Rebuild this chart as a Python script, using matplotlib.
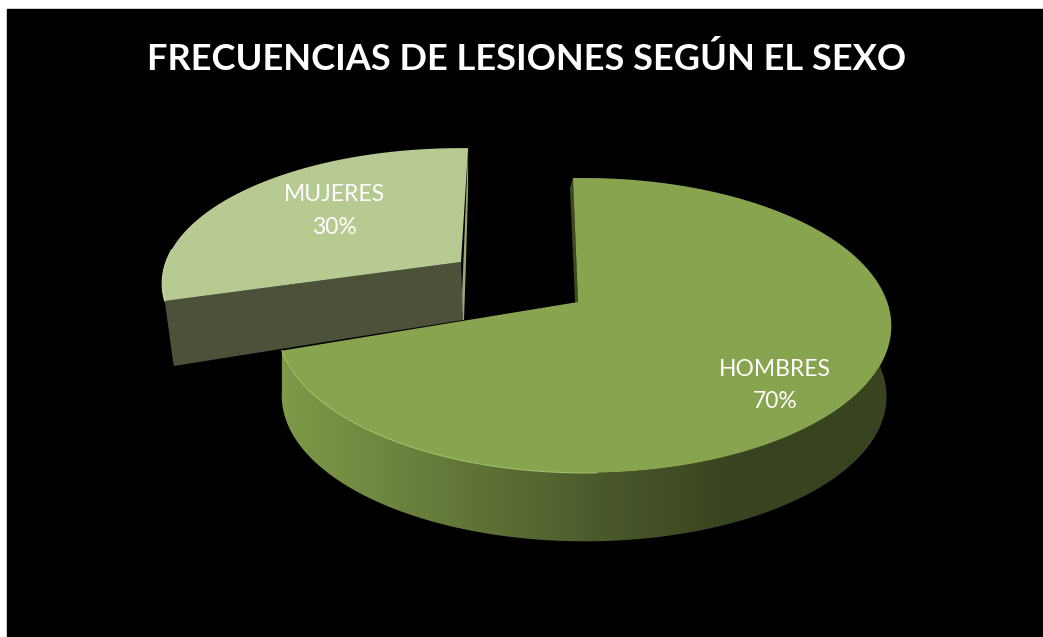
import numpy as np
import matplotlib
matplotlib.use("Agg")
import matplotlib.pyplot as plt
from matplotlib.colors import LinearSegmentedColormap
from matplotlib.patches import Polygon, Rectangle

titulo = "FRECUENCIAS DE LESIONES SEGÚN EL SEXO"
sexos = ["HOMBRES", "MUJERES"]
porcentajes = [70, 30]

plt.rcParams['font.family'] = ['Lato', 'DejaVu Sans']

# perspective of each slice top: centre, radii, depth factors, rotation
VISTA_HOMBRES = dict(cx=578, cy=302, A=303, B=143.7, k=0.159, m=-0.02, rot=-1.1)
VISTA_MUJERES = dict(cx=461, cy=262, A=295, B=132, k=0.159, m=0.0, rot=1.6)


def proyectar(ang, cx, cy, A, B, k, m, rot, dy=0, esc=1.0):
    a = np.radians(np.asarray(ang, dtype=float) + rot)
    u, v = np.sin(a), np.cos(a)
    w = 1 + k * v + m * u
    return np.column_stack((cx + esc * A * u / w, cy + dy - esc * B * v / w))


fig = plt.figure(figsize=(10.43, 6.37), dpi=100, facecolor="white")
ax = fig.add_axes([0, 0, 1, 1])
ax.set_axis_off()
ax.add_patch(Rectangle((7, 9), 1043, 637, color="black", zorder=0))

fin_hombres = porcentajes[0] * 3.6
fin_mujeres = fin_hombres + porcentajes[1] * 3.6

# MUJERES: exploded slice, front face first
arco_m = proyectar(np.linspace(fin_hombres, fin_mujeres, 120), **VISTA_MUJERES)
vert_m = np.array([VISTA_MUJERES["cx"], VISTA_MUJERES["cy"]], dtype=float)
esquina = arco_m[0]
cara = [esquina, vert_m, vert_m + [2, 58], esquina + [9, 65]]
ax.add_patch(Polygon(cara, closed=True, fc="#4b5239", ec="none", zorder=2))
ax.add_patch(Polygon([arco_m[-1], arco_m[-1] + [0, 40], vert_m + [5, 0], vert_m + [3, 58], vert_m + [0, 58]],
                     closed=True, fc="#98a878", ec="none", zorder=1))
ax.add_patch(Polygon(np.vstack((arco_m, vert_m)), closed=True, fc="#b6ca92", ec="none", zorder=3))
ax.plot(arco_m[:25, 0], arco_m[:25, 1], color="#c6d8a4", lw=0.8, zorder=4)

# HOMBRES: side wall with gradient, then the top
borde_sup = proyectar(np.linspace(70, fin_hombres, 300), **VISTA_HOMBRES)
borde_inf = proyectar(np.linspace(70, fin_hombres + 12, 300), dy=71, esc=0.985, **VISTA_HOMBRES)
pared = Polygon(np.vstack((borde_sup, borde_inf[::-1])), closed=True, fc="none", ec="none",
                transform=ax.transData)
ax.add_patch(pared)
cmap_pared = LinearSegmentedColormap.from_list("pared", [(0, "#7f9a49"), (0.25, "#667c3b"),
                                                         (0.55, "#48562a"), (0.75, "#384320"),
                                                         (1, "#384320")])
grad = ax.imshow(np.linspace(0, 1, 400).reshape(1, -1), cmap=cmap_pared, extent=(280, 892, 545, 300),
                 aspect="auto", zorder=5)
grad.set_clip_path(pared)

arco_h = proyectar(np.linspace(0, fin_hombres, 400), **VISTA_HOMBRES)
vert_h = np.array([VISTA_HOMBRES["cx"], VISTA_HOMBRES["cy"]], dtype=float)
ax.add_patch(Polygon([arco_h[0], arco_h[0] + [-3, 10], vert_h + [-3, 0], vert_h],
                     closed=True, fc="#3d4a22", ec="none", zorder=5))
ax.add_patch(Polygon(np.vstack((arco_h, vert_h)), closed=True, fc="#89a44f", ec="none", zorder=6))
corte = arco_h[arco_h[:, 0] < 600]
corte = corte[corte[:, 1] > 340]
ax.plot(corte[:, 0], corte[:, 1], color="#a3c166", lw=0.8, zorder=7)

ax.set_xlim(0, 1043)
ax.set_ylim(637, 0)

# labels
ax.text(527, 59, titulo, color="white", fontsize=26.1, fontweight="bold", ha="center", va="center", zorder=10)
ax.text(775, 385.5, "%s\n%d%%" % (sexos[0], porcentajes[0]), color="white", fontsize=16.5, ha="center",
        va="center", linespacing=1.7, zorder=10)
ax.text(334, 211, "%s\n%d%%" % (sexos[1], porcentajes[1]), color="white", fontsize=16.5, ha="center",
        va="center", linespacing=1.7, zorder=10)

fig.savefig("out.png", dpi=100, facecolor="white")
